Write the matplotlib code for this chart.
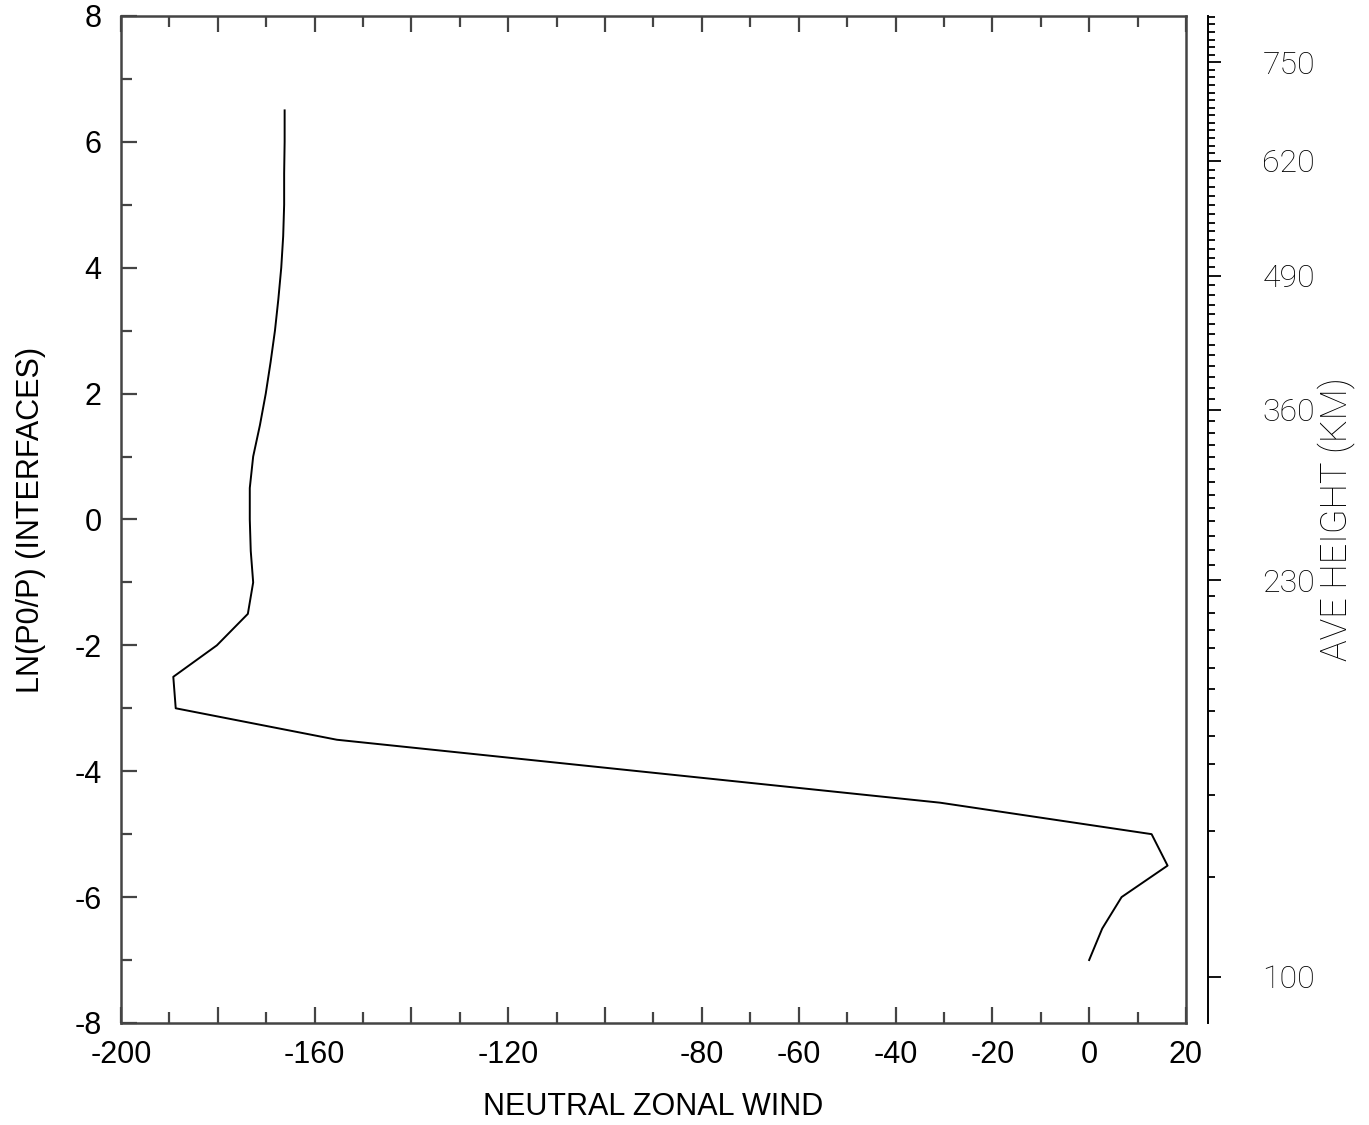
import numpy as np
import matplotlib
matplotlib.use('Agg')
import matplotlib.pyplot as plt
from matplotlib.ticker import FixedLocator, NullFormatter

plt.rcParams['font.family'] = ['Liberation Sans', 'DejaVu Sans']
plt.rcParams['axes.unicode_minus'] = False

# neutral zonal wind profile vs ln(p0/p) at interfaces
lnp = [-7.0, -6.5, -6.0, -5.5, -5.0, -4.5, -4.0, -3.5, -3.0, -2.5, -2.0, -1.5,
       -1.0, -0.5, 0.0, 0.5, 1.0, 1.5, 2.0, 2.5, 3.0, 3.5, 4.0, 4.5, 5.0, 5.5,
       6.0, 6.5]
wind = [0.0, 2.7, 6.7, 16.2, 12.9, -30.8, -93.1, -155.4, -188.7, -189.2,
        -180.2, -173.8, -172.7, -173.2, -173.4, -173.4, -172.7, -171.3, -170.1,
        -169.1, -168.2, -167.5, -166.9, -166.5, -166.3, -166.3, -166.2, -166.2]

# average height (km) against ln(p0/p)
ht_km = [100, 110, 120, 130, 140, 150, 160, 170, 180, 190, 200, 210, 220, 230,
         240, 250, 260, 270, 280, 290, 300, 310, 320, 330, 340, 350, 360, 370,
         380, 390, 400, 410, 420, 430, 490, 620, 750]
ht_lnp = [-7.263, -5.674, -4.943, -4.371, -3.879, -3.434, -3.042, -2.687,
          -2.353, -2.045, -1.755, -1.480, -1.214, -0.965, -0.731, -0.493,
          -0.259, -0.031, 0.175, 0.389, 0.596, 0.798, 0.993, 1.190, 1.374,
          1.560, 1.746, 1.914, 2.089, 2.264, 2.439, 2.609, 2.779, 2.954,
          3.873, 5.701, 7.264]
ht_labels = [100, 230, 360, 490, 620, 750]

xticks_major = [-200, -160, -120, -80, -60, -40, -20, 0, 20]

fig = plt.figure(figsize=(13.69, 11.25), dpi=100)
ax = fig.add_axes([0.0884, 0.0907, 0.7779, 0.8951])

ax.plot(wind, lnp, color='black', lw=1.4)

ax.set_xlim(-200, 20)
ax.set_ylim(-8, 8)
ax.xaxis.set_major_locator(FixedLocator(np.arange(-200, 21, 20)))
ax.xaxis.set_minor_locator(FixedLocator(np.arange(-200, 21, 10)))
ax.xaxis.set_major_formatter(plt.FuncFormatter(
    lambda v, p: '%d' % v if int(round(v)) in xticks_major else ''))
ax.set_yticks(np.arange(-8, 9, 2))
ax.yaxis.set_minor_locator(FixedLocator(np.arange(-7, 8, 2)))

ax.tick_params(which='both', direction='in', top=True, right=True,
               labelsize=22, color='#444444', width=1.6)
ax.tick_params(which='major', length=11.5)
ax.tick_params(which='minor', length=7.9)
ax.tick_params(axis='x', which='major', pad=12)
ax.tick_params(axis='y', which='major', pad=14)
for s in ax.spines.values():
    s.set_color('#444444')
    s.set_linewidth(1.8)

ax.set_xlabel('NEUTRAL ZONAL WIND', fontsize=22, labelpad=16)
ax.set_ylabel('LN(P0/P) (INTERFACES)', fontsize=22, va='center', ha='center')
ax.yaxis.set_label_coords(-0.0845, 0.5)

# secondary height axis
ax2 = ax.twinx()
ax2.set_ylim(-8, 8)
for k in ['left', 'top', 'bottom']:
    ax2.spines[k].set_visible(False)
ax2.spines['right'].set_position(('axes', 1.0207))
ax2.spines['right'].set_linewidth(1.4)
ax2.spines['right'].set_color('black')

minor_h = np.arange(100, 811, 10)
slope_top = (ht_lnp[-1] - ht_lnp[-2]) / (ht_km[-1] - ht_km[-2])


def h2z(h):
    h = np.asarray(h, dtype=float)
    z = np.interp(h, ht_km, ht_lnp)
    return np.where(h > ht_km[-1], ht_lnp[-1] + (h - ht_km[-1]) * slope_top, z)


ax2.yaxis.set_major_locator(FixedLocator(h2z(ht_labels)))
ax2.set_yticklabels([str(v) for v in ht_labels])
minor_z = h2z(minor_h)
ax2.yaxis.set_minor_locator(FixedLocator(minor_z[minor_z <= 8]))
ax2.yaxis.set_minor_formatter(NullFormatter())
ax2.tick_params(which='both', direction='out', color='black', width=1.3)
ax2.tick_params(which='major', length=9.1, pad=30)
ax2.tick_params(which='minor', length=4.8)
for t in ax2.get_yticklabels():
    t.set_fontfamily(['Roboto', 'DejaVu Sans'])
    t.set_fontweight('light')
    t.set_fontsize(23)
    t.set_color('black')

ax2.set_ylabel('AVE HEIGHT (KM)', fontsize=26, family=['Roboto', 'DejaVu Sans'],
               fontweight='light', color='black', rotation=90,
               va='center', ha='center')
ax2.yaxis.set_label_coords(1.141, 0.5)

fig.savefig('out.png', dpi=100)
